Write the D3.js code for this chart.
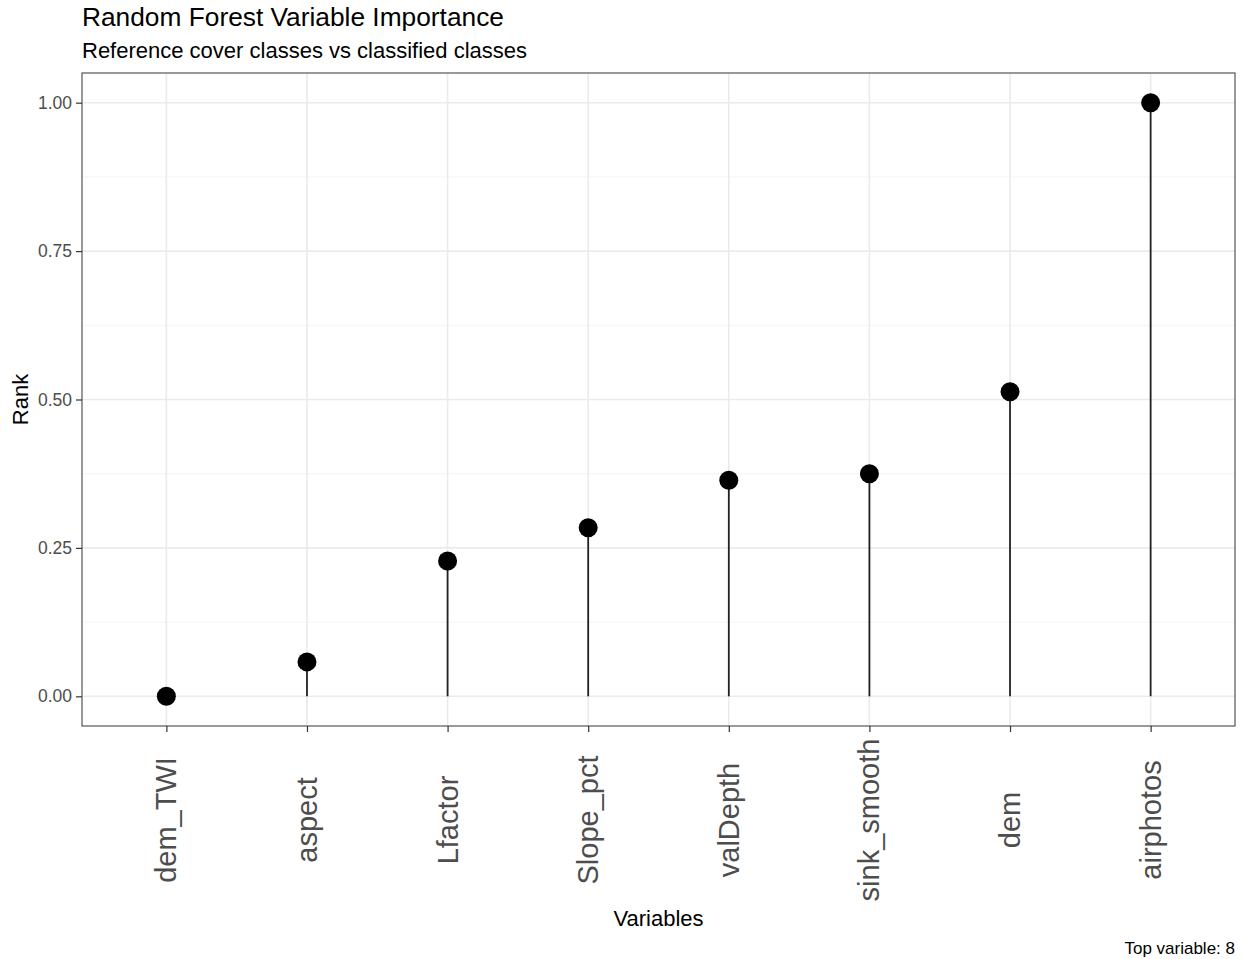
<!DOCTYPE html>
<html>
<head>
<meta charset="utf-8">
<script src="https://cdn.jsdelivr.net/npm/d3@7"></script>
<style>
  html, body { margin: 0; padding: 0; background: #fff; }
  svg { display: block; font-family: "Liberation Sans", Arial, sans-serif; }
</style>
</head>
<body>
<svg id="chart" width="1245" height="959"></svg>
<script>
const categories = ["dem_TWI", "aspect", "Lfactor", "Slope_pct", "valDepth", "sink_smooth", "dem", "airphotos"];
const rankValues = [0.000, 0.058, 0.228, 0.284, 0.364, 0.375, 0.513, 1.000];
const yTicks = [0, 0.25, 0.5, 0.75, 1.0];
const yMinorTicks = [0.125, 0.375, 0.625, 0.875];
const titleText = "Random Forest Variable Importance";
const subtitleText = "Reference cover classes vs classified classes";
const xLabel = "Variables";
const yLabel = "Rank";
const captionText = "Top variable: 8";

const svg = d3.select("#chart");
const panel = { left: 82, right: 1235, top: 73, bottom: 726 };

const x = d3.scalePoint().domain(categories).range([panel.left, panel.right]).padding(0.6);
const y = d3.scaleLinear().domain([-0.05, 1.05]).range([panel.bottom, panel.top]);

// gridlines
const g = svg.append("g");
g.selectAll("line.minor").data(yMinorTicks).enter().append("line")
  .attr("x1", panel.left).attr("x2", panel.right)
  .attr("y1", d => y(d)).attr("y2", d => y(d))
  .attr("stroke", "#F4F4F4").attr("stroke-width", 1);
g.selectAll("line.majy").data(yTicks).enter().append("line")
  .attr("x1", panel.left).attr("x2", panel.right)
  .attr("y1", d => y(d)).attr("y2", d => y(d))
  .attr("stroke", "#EBEBEB").attr("stroke-width", 1.6);
g.selectAll("line.majx").data(categories).enter().append("line")
  .attr("x1", d => x(d)).attr("x2", d => x(d))
  .attr("y1", panel.top).attr("y2", panel.bottom)
  .attr("stroke", "#EBEBEB").attr("stroke-width", 1.6);

// stems
const data = categories.map((c, i) => ({ c, v: rankValues[i] }));
svg.append("g").selectAll("line").data(data).enter().append("line")
  .attr("x1", d => x(d.c)).attr("x2", d => x(d.c))
  .attr("y1", y(0)).attr("y2", d => y(d.v))
  .attr("stroke", "#222").attr("stroke-width", 1.8);

// points
svg.append("g").selectAll("circle").data(data).enter().append("circle")
  .attr("cx", d => x(d.c)).attr("cy", d => y(d.v))
  .attr("r", 9.5).attr("fill", "#000");

// panel border
svg.append("rect")
  .attr("x", panel.left).attr("y", panel.top)
  .attr("width", panel.right - panel.left).attr("height", panel.bottom - panel.top)
  .attr("fill", "none").attr("stroke", "#555").attr("stroke-width", 1.2);

// y axis
const yAxis = d3.axisLeft(y).tickValues(yTicks).tickFormat(d3.format(".2f")).tickSize(6).tickPadding(4);
const ya = svg.append("g").attr("transform", `translate(${panel.left},0)`).call(yAxis);
ya.select(".domain").remove();
ya.selectAll(".tick line").attr("stroke", "#333").attr("stroke-width", 1.2);
ya.selectAll(".tick text").attr("fill", "#4D4D4D").attr("font-size", "17.5px")
  .attr("font-family", "Liberation Sans, Arial, sans-serif");

// x axis
const xAxis = d3.axisBottom(x).tickSize(6).tickPadding(0);
const xa = svg.append("g").attr("transform", `translate(0,${panel.bottom})`).call(xAxis);
xa.select(".domain").remove();
xa.selectAll(".tick line").attr("stroke", "#333").attr("stroke-width", 1.2);
xa.selectAll(".tick text")
  .attr("fill", "#4D4D4D").attr("font-size", "29px")
  .attr("font-family", "Liberation Sans, Arial, sans-serif")
  .attr("text-anchor", "middle")
  .attr("transform", "translate(0,94) rotate(-90)")
  .attr("x", 0).attr("y", 0).attr("dy", "0.33em");

// titles
svg.append("text").attr("x", 82).attr("y", 25.5).attr("font-size", "26.3px").attr("fill", "#000").text(titleText);
svg.append("text").attr("x", 82).attr("y", 57.5).attr("font-size", "22px").attr("fill", "#000").text(subtitleText);
svg.append("text").attr("x", (panel.left + panel.right) / 2).attr("y", 925.5)
  .attr("text-anchor", "middle").attr("font-size", "22px").attr("fill", "#000").text(xLabel);
svg.append("text").attr("transform", `translate(27.5,${(panel.top + panel.bottom) / 2}) rotate(-90)`)
  .attr("text-anchor", "middle").attr("font-size", "22px").attr("fill", "#000").text(yLabel);
svg.append("text").attr("x", 1235).attr("y", 954).attr("text-anchor", "end")
  .attr("font-size", "17px").attr("fill", "#000").text(captionText);
</script>
</body>
</html>
